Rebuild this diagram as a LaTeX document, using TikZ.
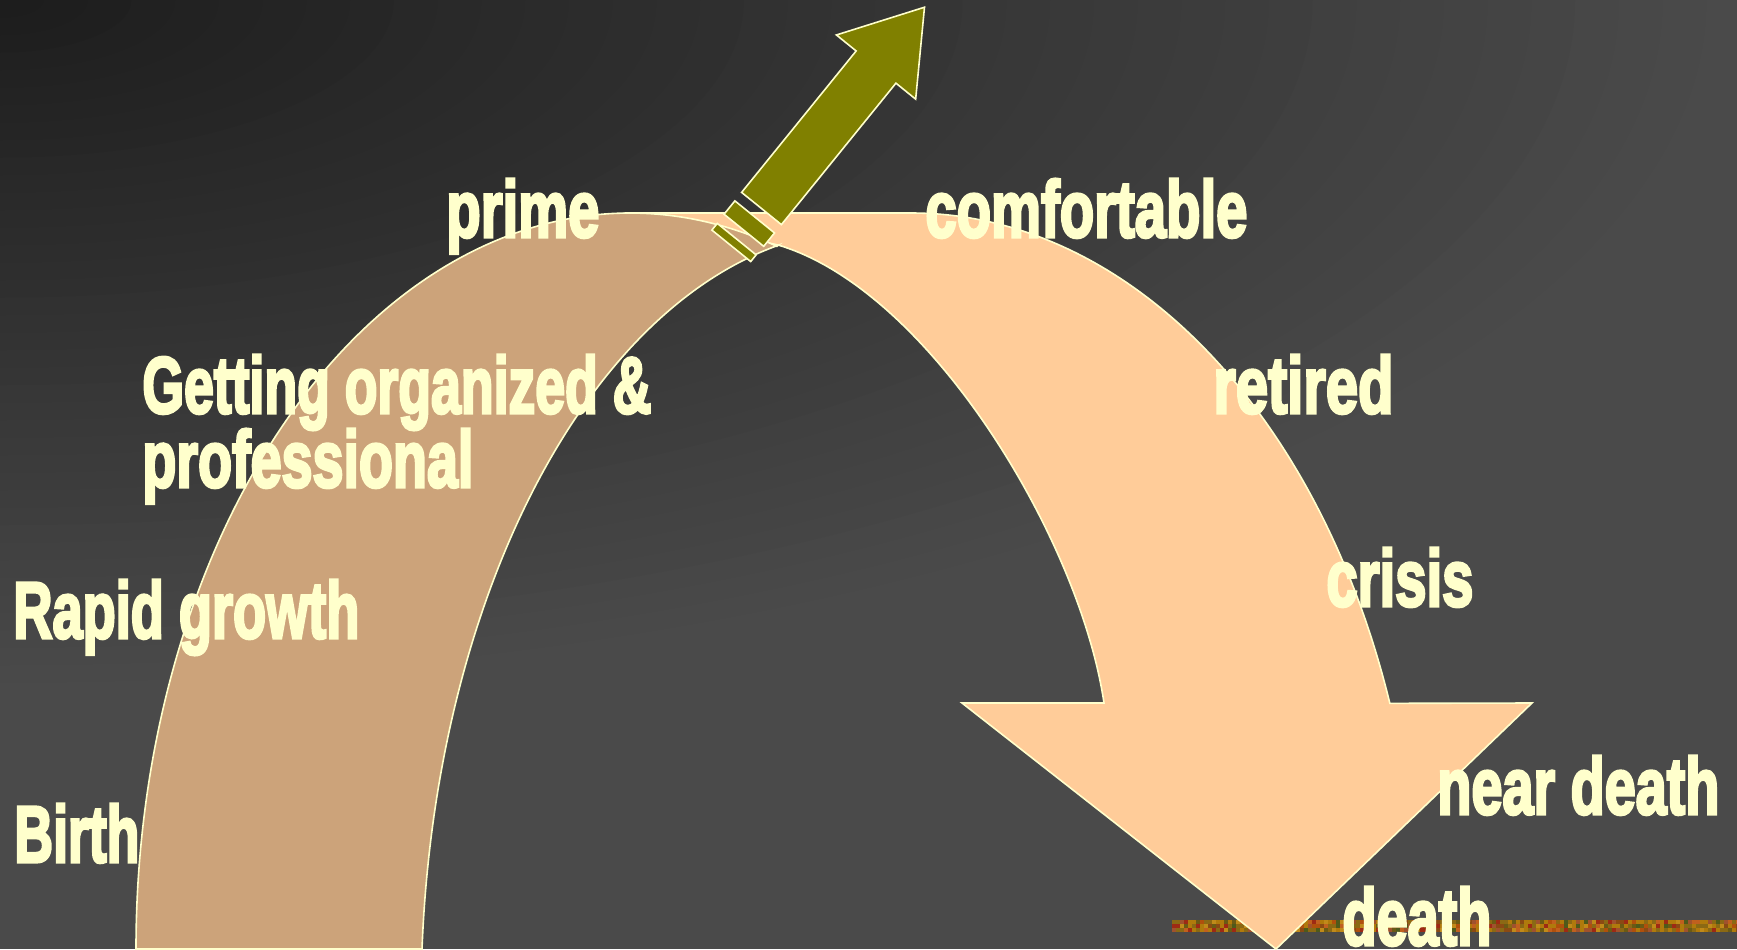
\documentclass[tikz,border=0pt]{standalone}
\usepackage{fontspec}
\usepackage{graphicx}
\newfontfamily\imp{Liberation Sans Bold}[FakeBold=4]
\definecolor{bgA}{HTML}{1C1C1C}
\definecolor{bgB}{HTML}{4A4A4A}
\definecolor{brownband}{HTML}{CCA37A}
\definecolor{peach}{HTML}{FFCC99}
\definecolor{olivearrow}{HTML}{808000}
\definecolor{edge}{HTML}{FFFFCC}
\definecolor{txt}{HTML}{FFFFCC}
\definecolor{sA}{HTML}{B07A0C}
\definecolor{sB}{HTML}{C08A1A}
\definecolor{sC}{HTML}{8B4A13}
\definecolor{sD}{HTML}{A0522D}
\definecolor{sE}{HTML}{9E2A14}
\definecolor{sF}{HTML}{6B5A14}
\definecolor{sG}{HTML}{C0601E}
\definecolor{sH}{HTML}{8B6914}
\definecolor{sI}{HTML}{4F5A1A}
\definecolor{sJ}{HTML}{B0500C}
\newcommand\fitw[2]{\resizebox{#1}{\height}{#2}}
\pgfmathdeclarerandomlist{strippal}{{sA}{sB}{sA}{sH}{sC}{sD}{sE}{sF}{sG}{sH}{sI}{sJ}}
\begin{document}
\begin{tikzpicture}[x=0.5pt,y=-0.5pt,
  shapeedge/.style={draw=edge, line width=0.8pt, line join=miter},
  lab/.style={text=txt, font=\imp\fontsize{40}{44}\selectfont, inner sep=0pt, anchor=base west}]
\useasboundingbox (0,0) rectangle (1737,949);
% background: dark corner at top left fading to grey
\begin{scope}
  \clip (0,0) rectangle (1737,949);
  \fill[bgB] (0,0) rectangle (1737,949);
  \foreach \k in {40,39,...,1}{
    \pgfmathsetmacro\mix{\k*2.5}
    \fill[bgB!\mix!bgA] (0,0) ellipse [x radius=\k*43.75, y radius=\k*17.5];
  }
\end{scope}
% textured strip
\pgfmathsetseed{7}
\foreach \i in {0,...,141}{
  \foreach \j in {0,1,2}{
    \pgfmathrandomitem{\stripcol}{strippal}
    \fill[\stripcol] (1172+\i*4,920+\j*4) rectangle ++(4,4);
  }
}
% peach descending arrow
\path[shapeedge, fill=peach] (630,213) -- (911,213)
  arc[start angle=270, end angle=340.5, x radius=508, y radius=736]
  -- (1532,703) -- (1276,949) -- (962,703) -- (1104,703)
  .. controls (1080,540) and (930,290) .. (778,245) -- cycle;
% brown rising band
\path[shapeedge, fill=brownband] (422,949) -- (136,949)
  arc[start angle=180, end angle=287.3, x radius=494, y radius=736]
  -- (778.2,245.3)
  arc[start angle=258.2, end angle=183.8, x radius=449, y radius=771]
  -- cycle;
% rocket arrow
\begin{scope}[shift={(761.5,208.5)}, rotate=51]
  \path[shapeedge, fill=olivearrow] (0,-25.6) -- (182,-25.6) -- (182,-51) -- (259,0)
    -- (182,51) -- (182,25.6) -- (0,25.6) -- cycle;
  \path[shapeedge, fill=olivearrow] (-28,-25.5) rectangle (-10.8,25.5);
  \path[shapeedge, fill=olivearrow] (-48,-25) rectangle (-39.4,25);
\end{scope}
% labels
\node[lab] (prime) at (446,237) {\fitw{76.5pt}{prime}};
\node[lab] (comfortable) at (925,237) {\fitw{161pt}{comfortable}};
\node[lab] (organized) at (142,413) {\fitw{254.5pt}{Getting organized \&}};
\node[lab] (professional) at (142,487) {\fitw{165.5pt}{professional}};
\node[lab] (retired) at (1213,413) {\fitw{90pt}{retired}};
\node[lab] (rapid) at (13,638) {\fitw{173pt}{Rapid growth}};
\node[lab] (crisis) at (1326,606) {\fitw{73.5pt}{crisis}};
\node[lab] (neardeath) at (1437,814) {\fitw{141pt}{near death}};
\node[lab] (birth) at (14,862) {\fitw{62.5pt}{Birth}};
\node[lab] (death) at (1342,945) {\fitw{74.5pt}{death}};
\end{tikzpicture}
\end{document}
